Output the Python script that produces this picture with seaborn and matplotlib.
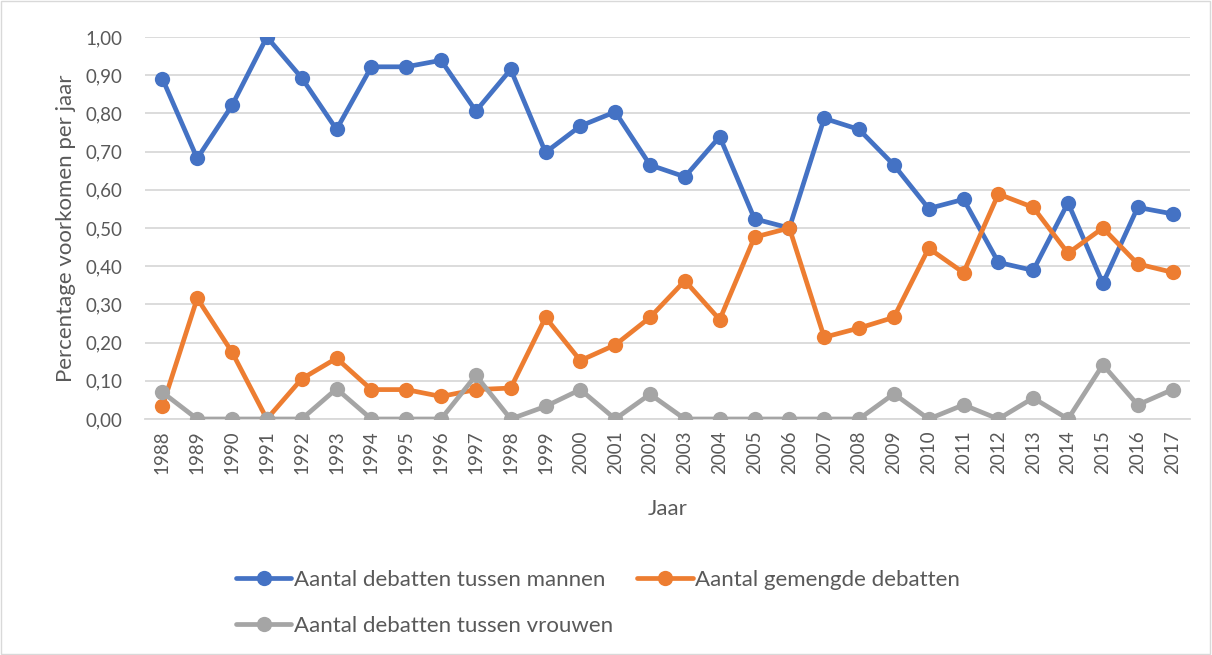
import pandas as pd
import numpy as np
import matplotlib
matplotlib.use("Agg")
import matplotlib.pyplot as plt
import seaborn as sns
from matplotlib.patches import Rectangle
from matplotlib.ticker import FuncFormatter

# Data
jaren = [str(j) for j in range(1988, 2018)]
mannen = [0.891, 0.682, 0.821, 1.000, 0.893, 0.758, 0.922, 0.922, 0.939, 0.806,
          0.915, 0.698, 0.767, 0.804, 0.665, 0.634, 0.739, 0.524, 0.500, 0.787,
          0.758, 0.665, 0.551, 0.575, 0.410, 0.389, 0.566, 0.355, 0.554, 0.537]
gemengd = [0.033, 0.316, 0.175, 0.000, 0.105, 0.159, 0.077, 0.077, 0.059, 0.077,
           0.081, 0.266, 0.153, 0.194, 0.266, 0.362, 0.260, 0.476, 0.500, 0.214,
           0.238, 0.266, 0.447, 0.383, 0.589, 0.554, 0.434, 0.500, 0.406, 0.384]
vrouwen = [0.070, 0.000, 0.000, 0.000, 0.000, 0.079, 0.000, 0.000, 0.000, 0.114,
           0.000, 0.033, 0.077, 0.000, 0.065, 0.000, 0.000, 0.000, 0.000, 0.000,
           0.000, 0.066, 0.000, 0.037, 0.000, 0.055, 0.000, 0.142, 0.037, 0.077]

reeksen = {
    "Aantal debatten tussen mannen": mannen,
    "Aantal gemengde debatten": gemengd,
    "Aantal debatten tussen vrouwen": vrouwen,
}
kleuren = {
    "Aantal debatten tussen mannen": "#4472C4",
    "Aantal gemengde debatten": "#ED7D31",
    "Aantal debatten tussen vrouwen": "#A5A5A5",
}

df = pd.DataFrame({"Jaar": jaren, **reeksen})
df_long = df.melt(id_vars="Jaar", var_name="Reeks", value_name="Waarde")

sns.set_theme(style="white")
plt.rcParams["font.family"] = ["Lato", "DejaVu Sans"]
tekstkleur = "#595959"

fig = plt.figure(figsize=(12.12, 6.55), dpi=100)
ax = fig.add_axes([0.1196, 0.3603, 0.8622, 0.5832])

sns.lineplot(data=df_long, x="Jaar", y="Waarde", hue="Reeks", palette=kleuren,
             marker="o", markersize=11, markeredgewidth=0, linewidth=3.4,
             sort=False, ax=ax, legend=False, zorder=3)

ax.set_xlim(-0.5, len(jaren) - 0.5)
ax.set_ylim(0, 1.0)
ax.set_yticks(np.arange(0, 1.01, 0.1))
ax.yaxis.set_major_formatter(FuncFormatter(lambda v, p: f"{v:.2f}".replace(".", ",")))
ax.grid(axis="y", color="#D9D9D9", linewidth=1.3)
ax.grid(axis="x", visible=False)
for s in ["top", "right", "left"]:
    ax.spines[s].set_visible(False)
ax.spines["bottom"].set_color("#D9D9D9")
ax.spines["bottom"].set_linewidth(1.3)
ax.tick_params(axis="x", rotation=90, labelsize=13.5, colors=tekstkleur, length=0, pad=8)
ax.tick_params(axis="y", labelsize=13.5, colors=tekstkleur, length=0, pad=16)
ax.set_xlabel("Jaar", fontsize=16, color=tekstkleur, labelpad=18)
ax.set_ylabel("Percentage voorkomen per jaar", fontsize=16, color=tekstkleur, labelpad=7)

# Legenda: rij 1 mannen + gemengd, rij 2 vrouwen
volgorde = ["Aantal debatten tussen mannen", "Aantal debatten tussen vrouwen",
            "Aantal gemengde debatten"]
handles = [plt.Line2D([], [], color=kleuren[n], marker="o", markersize=11,
                      markeredgewidth=0, linewidth=3.4) for n in volgorde]
leg = fig.legend(handles, volgorde, loc="upper left", bbox_to_anchor=(0.178, 0.16),
                 ncol=2, frameon=False, fontsize=16, handlelength=2.5,
                 handletextpad=0.1, columnspacing=1.1, labelspacing=1.15)
for t in leg.get_texts():
    t.set_color(tekstkleur)

fig.patches.append(Rectangle((0.001, 0.002), 0.997, 0.996, transform=fig.transFigure,
                             fill=False, edgecolor="#D9D9D9", linewidth=1))

fig.savefig("out.png", dpi=100)
